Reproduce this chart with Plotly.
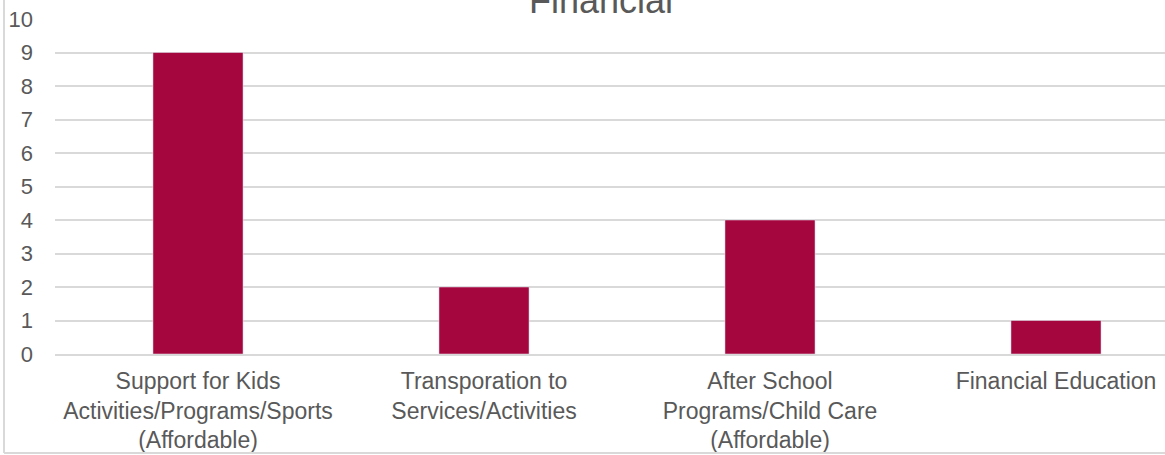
import plotly.graph_objects as go

categories = [
    "Support for Kids<br>Activities/Programs/Sports<br>(Affordable)",
    "Transporation to<br>Services/Activities",
    "After School<br>Programs/Child Care<br>(Affordable)",
    "Financial Education",
]
values = [9, 2, 4, 1]
y_ticks = list(range(0, 11))
title_text = "Financial"

BAR = "#A5063D"
TXT = "#595959"
GRID = "#D9D9D9"
FONT = "Liberation Sans, Arial, sans-serif"

fig = go.Figure()
fig.add_trace(go.Bar(x=list(range(len(categories))), y=values, marker_color=BAR,
                     width=0.315, hoverinfo="skip"))

W, H = 1165, 455
L, R, T, B = 55, 0, 19, 101
pw = W - L - R
ph = H - T - B

fig.update_layout(
    width=W, height=H,
    margin=dict(l=L, r=R, t=T, b=B, pad=0, autoexpand=False),
    paper_bgcolor="white", plot_bgcolor="white",
    showlegend=False,
    font=dict(family=FONT, color=TXT, size=22),
    xaxis=dict(
        range=[-0.5, (W - 198) / 286.0],
        tickmode="array", tickvals=list(range(len(categories))), ticktext=categories,
        showgrid=False, zeroline=False, showline=True, linecolor=GRID, linewidth=2,
        ticks="", ticklabelstandoff=5, automargin=False,
        tickfont=dict(size=23, color=TXT, family=FONT),
        fixedrange=True,
    ),
    yaxis=dict(
        range=[0, 10], tickmode="array", tickvals=y_ticks,
        showgrid=True, gridcolor=GRID, gridwidth=2,
        zeroline=False, showline=False, ticks="", ticklabelstandoff=21,
        automargin=False,
        tickfont=dict(size=22, color=TXT, family=FONT),
        fixedrange=True,
    ),
    annotations=[dict(
        text=title_text, xref="paper", yref="paper",
        x=(601 - L) / pw, y=(ph + T - 23) / ph,
        xanchor="center", yanchor="bottom", showarrow=False,
        font=dict(size=36, color=TXT, family=FONT),
    )],
    shapes=[
        dict(type="line", xref="paper", yref="paper",
             x0=(4 - L) / pw, x1=(4 - L) / pw, y0=(T + ph - 453) / ph, y1=(T + ph + 10) / ph,
             line=dict(color=GRID, width=2)),
        dict(type="line", xref="paper", yref="paper",
             x0=(4 - L) / pw, x1=(W + 10 - L) / pw, y0=(T + ph - 453) / ph, y1=(T + ph - 453) / ph,
             line=dict(color=GRID, width=2)),
    ],
)

fig.write_html(
    "out.html",
    config={"displayModeBar": False},
    post_script="document.body.style.margin='0';document.body.style.overflow='hidden';",
)
